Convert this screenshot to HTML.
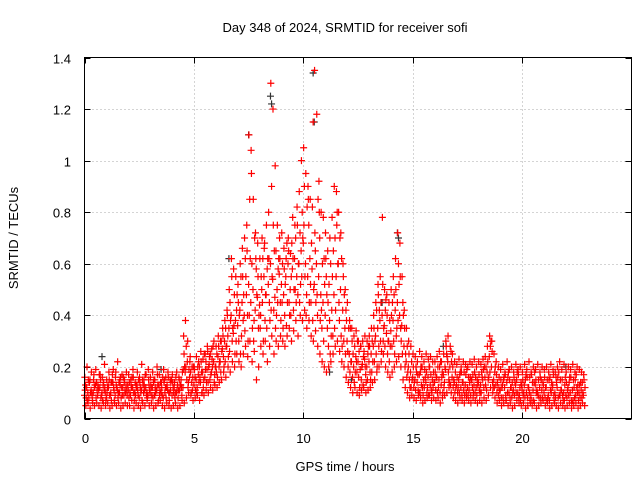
<!DOCTYPE html>
<html><head><meta charset="utf-8"><style>
body{margin:0;background:#fff}
svg{display:block;font-family:"Liberation Sans",sans-serif;font-size:13px}
</style></head><body>
<svg id="chart" width="640" height="480" xmlns="http://www.w3.org/2000/svg">
<rect width="640" height="480" fill="#fff"/>
<text x="345" y="32" text-anchor="middle">Day 348 of 2024, SRMTID for receiver sofi</text>
<text transform="translate(18,238) rotate(-90)" text-anchor="middle">SRMTID / TECUs</text>
<text x="345" y="471" text-anchor="middle">GPS time / hours</text>
<g id="grid"></g>
<g id="ticks"></g>
<g id="black"></g>
<g id="red"></g>
<rect x="84.5" y="57.5" width="547" height="361" fill="none" stroke="#000"/>
</svg>
<script>
const xTicks=[0,5,10,15,20];
const yTicks=[0,0.2,0.4,0.6,0.8,1,1.2,1.4];
const yTickLabels=["0","0.2","0.4","0.6","0.8","1","1.2","1.4"];
const stepHours=0.1;
const seriesA=[.09,.12,.08,.11,.10,.13,.09,.12,.10,.11,.08,.12,.10,.14,.09,.11,.10,.12,.09,.13,.11,.09,.12,.10,.13,.08,.11,.10,.12,.09,.10,.12,.09,.11,.13,.10,.08,.12,.11,.10,.09,.12,.10,.11,.13,.12,.18,.22,.16,.14,.13,.15,.17,.14,.18,.16,.19,.21,.18,.22,.20,.24,.22,.27,.30,.28,.35,.40,.33,.38,.36,.42,.45,.40,.48,.52,.45,.50,.42,.47,.44,.50,.55,.48,.52,.60,.54,.47,.50,.56,.52,.48,.55,.60,.50,.58,.62,.55,.60,.65,.68,.60,.55,.62,.58,.52,.60,.55,.48,.45,.40,.35,.38,.42,.48,.55,.60,.50,.42,.35,.30,.25,.22,.20,.24,.22,.19,.21,.23,.20,.22,.25,.28,.32,.35,.38,.40,.36,.33,.30,.34,.38,.42,.45,.40,.36,.28,.22,.20,.18,.16,.15,.14,.17,.13,.15,.14,.16,.13,.15,.14,.16,.15,.13,.17,.19,.22,.20,.16,.14,.13,.15,.12,.14,.13,.12,.14,.15,.13,.12,.14,.13,.15,.16,.18,.24,.20,.15,.13,.12,.11,.13,.12,.14,.10,.12,.11,.13,.10,.12,.11,.13,.10,.12,.09,.11,.13,.10,.12,.11,.10,.12,.09,.11,.13,.10,.12,.09,.11,.10,.09,.12,.10,.11,.08,.12,.10,.11,.09];
const seriesB=[.16,.20,.14,.18,.15,.19,.13,.17,.16,.21,.15,.18,.14,.19,.16,.22,.15,.17,.14,.18,.17,.15,.19,.14,.18,.16,.21,.15,.17,.19,.16,.18,.15,.20,.17,.14,.19,.16,.18,.15,.17,.14,.18,.16,.15,.19,.38,.30,.22,.20,.20,.24,.22,.26,.23,.25,.28,.24,.27,.30,.28,.32,.30,.35,.38,.42,.50,.62,.58,.55,.52,.60,.66,.70,.75,1.10,1.04,.85,.72,.68,.62,.70,.66,.75,.80,1.30,1.20,.98,.75,.70,.72,.66,.62,.70,.64,.78,.75,.82,.88,1.00,1.05,.95,.90,.85,.82,1.35,1.18,.92,.80,.78,.72,.65,.70,.78,.90,.88,.80,.72,.60,.50,.45,.38,.35,.32,.34,.30,.28,.30,.32,.30,.32,.35,.40,.45,.52,.55,.78,.50,.48,.45,.50,.55,.62,.72,.68,.55,.42,.35,.30,.28,.25,.24,.22,.26,.24,.22,.25,.23,.24,.22,.22,.24,.26,.22,.25,.30,.32,.28,.25,.22,.21,.23,.20,.22,.21,.20,.22,.21,.23,.20,.22,.21,.23,.24,.28,.32,.30,.25,.22,.20,.19,.21,.18,.22,.19,.20,.18,.21,.19,.20,.18,.21,.19,.22,.18,.20,.19,.21,.18,.20,.19,.20,.18,.21,.19,.18,.20,.22,.19,.21,.18,.20,.19,.21,.18,.20,.19,.18,.17];
const seriesC=[.05,.06,.04,.07,.05,.06,.05,.04,.06,.05,.06,.04,.05,.07,.05,.06,.04,.05,.06,.05,.05,.07,.04,.06,.05,.04,.06,.05,.07,.05,.06,.04,.05,.06,.07,.05,.04,.06,.05,.04,.05,.06,.04,.05,.07,.06,.08,.10,.09,.07,.08,.09,.07,.10,.09,.11,.10,.12,.11,.13,.12,.14,.15,.18,.16,.20,.18,.22,.20,.25,.22,.20,.25,.28,.24,.30,.22,.26,.15,.20,.28,.25,.30,.22,.28,.32,.25,.30,.28,.32,.30,.28,.32,.35,.30,.34,.38,.32,.40,.38,.42,.35,.38,.32,.30,.34,.28,.25,.22,.20,.18,.20,.22,.25,.28,.30,.26,.22,.20,.16,.14,.12,.10,.12,.10,.09,.11,.12,.10,.11,.12,.14,.15,.18,.20,.22,.25,.20,.18,.16,.18,.20,.22,.24,.20,.15,.12,.10,.08,.09,.08,.07,.09,.08,.06,.07,.08,.09,.07,.08,.07,.08,.06,.08,.09,.10,.12,.10,.08,.07,.06,.08,.07,.06,.08,.07,.06,.08,.07,.06,.07,.06,.08,.07,.09,.12,.10,.08,.06,.07,.05,.06,.07,.05,.06,.04,.05,.07,.06,.05,.06,.04,.05,.07,.05,.06,.04,.05,.06,.07,.05,.06,.04,.05,.07,.05,.04,.06,.05,.04,.05,.06,.04,.05,.06,.04,.05,.06,.05];
const seriesD=[.13,.10,.15,.09,.12,.14,.11,.08,.13,.10,.12,.09,.14,.11,.13,.10,.16,.12,.11,.09,.14,.12,.10,.13,.09,.12,.15,.11,.10,.13,.12,.14,.10,.13,.11,.09,.15,.12,.10,.14,.12,.10,.13,.11,.09,.25,.28,.14,.18,.16,.16,.12,.20,.18,.15,.22,.14,.25,.20,.17,.25,.20,.30,.24,.35,.32,.45,.30,.48,.42,.30,.55,.38,.62,.40,.85,.60,.38,.58,.35,.40,.62,.38,.58,.45,.90,.42,.65,.58,.45,.60,.40,.68,.45,.55,.42,.70,.48,.72,.80,.90,.48,.75,.45,1.15,.65,.40,.70,.35,.62,.55,.28,.60,.32,.70,.80,.38,.62,.30,.42,.20,.35,.16,.28,.18,.26,.15,.24,.17,.25,.18,.30,.22,.42,.28,.45,.30,.42,.25,.38,.28,.48,.32,.60,.35,.45,.20,.28,.15,.22,.12,.20,.11,.18,.12,.19,.10,.20,.11,.18,.11,.20,.10,.18,.14,.25,.15,.26,.12,.18,.10,.17,.09,.18,.10,.16,.09,.17,.10,.15,.11,.18,.12,.20,.15,.28,.14,.18,.10,.16,.08,.15,.09,.16,.08,.14,.09,.15,.08,.14,.09,.15,.08,.16,.07,.14,.10,.15,.08,.14,.08,.15,.07,.14,.09,.16,.08,.15,.09,.13,.08,.14,.07,.15,.09,.13,.08,.14];
const seriesE=[.11,.07,.14,.10,.17,.08,.12,.15,.07,.12,.10,.15,.07,.12,.18,.08,.13,.09,.15,.11,.08,.13,.16,.09,.11,.14,.07,.13,.09,.15,.13,.08,.12,.17,.09,.12,.14,.08,.16,.11,.14,.08,.11,.15,.12,.32,.20,.12,.24,.11,.19,.10,.14,.22,.12,.19,.26,.15,.23,.14,.18,.28,.18,.32,.22,.40,.26,.55,.36,.30,.45,.25,.55,.34,.65,.40,.95,.30,.62,.55,.35,.45,.68,.35,.62,.42,.75,.35,.45,.62,.45,.58,.36,.65,.40,.62,.50,.75,.45,.55,.75,.40,.85,.52,.38,.72,.48,.80,.42,.30,.62,.45,.25,.55,.35,.75,.45,.32,.55,.25,.26,.18,.30,.14,.22,.16,.28,.13,.20,.15,.28,.18,.35,.25,.48,.30,.52,.28,.40,.22,.40,.30,.50,.38,.55,.25,.35,.16,.25,.12,.20,.11,.17,.10,.20,.12,.18,.09,.17,.12,.18,.10,.20,.16,.12,.28,.18,.13,.20,.10,.16,.10,.18,.11,.17,.09,.16,.12,.18,.09,.17,.10,.19,.13,.22,.18,.26,.12,.17,.09,.15,.08,.17,.10,.15,.08,.16,.10,.17,.07,.15,.08,.16,.10,.17,.07,.15,.09,.16,.08,.16,.07,.15,.10,.17,.08,.16,.09,.15,.07,.14,.09,.16,.07,.15,.10,.13,.08,.15];
const seriesF=[.08,.15,.10,.06,.13,.11,.17,.09,.14,.07,.13,.09,.17,.06,.12,.14,.08,.16,.10,.13,.10,.16,.07,.12,.15,.10,.13,.17,.08,.11,.09,.15,.11,.07,.14,.16,.10,.13,.07,.15,.10,.16,.08,.13,.18,.20,.15,.19,.10,.20,.11,.20,.16,.10,.25,.14,.20,.17,.28,.20,.16,.22,.26,.20,.28,.24,.38,.35,.25,.48,.40,.32,.48,.55,.30,.62,.35,.70,.48,.40,.55,.30,.48,.62,.38,.55,.65,.40,.62,.38,.35,.52,.45,.40,.68,.50,.45,.60,.52,.70,.55,.82,.45,.68,.50,.45,.85,.38,.60,.52,.48,.52,.32,.65,.42,.60,.70,.28,.48,.38,.35,.22,.25,.18,.30,.12,.20,.26,.14,.28,.15,.22,.30,.20,.42,.26,.35,.46,.30,.28,.45,.25,.35,.52,.30,.40,.25,.18,.12,.15,.14,.18,.10,.20,.09,.16,.12,.20,.10,.14,.16,.12,.22,.10,.20,.24,.14,.22,.15,.12,.12,.18,.14,.09,.19,.11,.15,.10,.16,.13,.10,.16,.20,.11,.16,.30,.12,.20,.14,.11,.12,.16,.07,.18,.12,.10,.14,.18,.09,.13,.10,.17,.12,.06,.14,.18,.11,.08,.15,.13,.12,.08,.16,.12,.06,.14,.18,.11,.07,.16,.11,.16,.06,.12,.17,.07,.14,.10,.12];
const blackTimes=[0.8,3.5,6.6,7.5,8.5,8.55,10.45,10.5,11.2,12.2,13.6,14.3,14.35,16.4,22.0];
const blackVals=[0.24,0.19,0.62,1.10,1.25,1.22,1.34,1.15,0.18,0.15,0.45,0.72,0.70,0.28,0.20];

const X0=84.5,X1=631.5,Y0=418.5,Y1=57.5,XMAX=25,YMAX=1.4;
const xs=v=>X0+(X1-X0)*v/XMAX;
const ys=v=>Y0-(Y0-Y1)*v/YMAX;
const NS="http://www.w3.org/2000/svg";
function mk(tag,attrs,parent){const e=document.createElementNS(NS,tag);for(const k in attrs)e.setAttribute(k,attrs[k]);parent.appendChild(e);return e;}
const grid=document.getElementById('grid'),ticks=document.getElementById('ticks');
xTicks.forEach((t,i)=>{const x=Math.round(xs(t))+0.5;
 if(t>0){const g=mk('line',{x1:x,x2:x,y1:Y1,y2:Y0,stroke:'#aaa','stroke-dasharray':'1,3'},grid);
 
 }
 const tk=mk('path',{d:`M${x},${Y0}v-6M${x},${Y1}v6`,stroke:'#000'},ticks);
 
 
 const lb=mk('text',{x:x,y:443,'text-anchor':'middle'},ticks);lb.textContent=String(t);
 
 
});
yTicks.forEach((t,i)=>{const y=Math.round(ys(t))+0.5;
 if(t>0&&t<YMAX){const g=mk('line',{x1:X0,x2:X1,y1:y,y2:y,stroke:'#aaa','stroke-dasharray':'1,3'},grid);
 
 }
 const tk=mk('path',{d:`M${X0},${y}h6M${X1},${y}h-6`,stroke:'#000'},ticks);
 
 
 const lb=mk('text',{x:71,y:y+5,'text-anchor':'end'},ticks);lb.textContent=yTickLabels[i];
 
 
});
function plus(g,t,v,color){const x=xs(t),y=ys(v);
 const p=mk('path',{d:`M${x-3.5},${y}h7M${x},${y-3.5}v7`,stroke:color,'stroke-width':1.2},g);
 
 }
const black=document.getElementById('black'),red=document.getElementById('red');
blackTimes.forEach((t,i)=>plus(black,t,blackVals[i],'#333'));
const drawSets=[[seriesA,0],[seriesB,0.015],[seriesE,0.03],[seriesD,0.05],[seriesC,0.06],[seriesF,0.075]];
drawSets.forEach(([s,off])=>s.forEach((v,i)=>plus(red,i*stepHours+off,v,'#f00')));
</script>
</body></html>
